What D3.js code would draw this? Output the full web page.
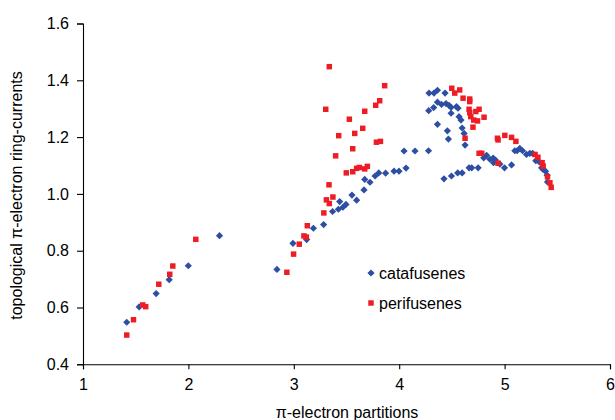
<!DOCTYPE html>
<html>
<head>
<meta charset="utf-8">
<script src="https://cdn.jsdelivr.net/npm/d3@7"></script>
<style>
    body { margin: 0; background: #fff; }
    text { font-family: "Liberation Sans", Arial, sans-serif; fill: #000; }
</style>
</head>
<body>
<div id="chart"></div>
<script>

// catafusenes (blue diamonds)
var cataX = [1.415, 1.533, 1.694, 1.818, 1.999, 2.295, 2.840, 2.992, 3.122, 3.186, 3.283, 3.368, 3.423, 3.466, 3.495,
    3.435, 3.552, 3.596, 3.666, 3.673, 3.723, 3.771, 3.806, 3.871, 3.951, 3.998, 4.046, 4.065, 4.150, 4.278,
    4.283, 4.330, 4.363, 4.435, 4.280, 4.327, 4.363, 4.401, 4.444, 4.472, 4.492, 4.543, 4.558, 4.492, 4.568,
    4.586, 4.363, 4.457, 4.467, 4.597, 4.616, 4.625, 4.425, 4.496, 4.555, 4.597, 4.663, 4.688, 4.749, 4.802,
    4.829, 4.860, 4.891, 4.913, 4.895, 4.955, 4.999, 5.066, 5.097, 5.119, 5.144, 5.170, 5.208, 5.239, 5.265,
    5.296, 5.328, 5.351, 5.366, 5.388, 5.403, 5.407];
var cataY = [0.548, 0.602, 0.649, 0.698, 0.747, 0.853, 0.734, 0.826, 0.839, 0.879, 0.892, 0.938, 0.946, 0.953, 0.963,
    0.973, 0.996, 0.978, 1.014, 1.051, 1.041, 1.063, 1.074, 1.073, 1.080, 1.080, 1.151, 1.091, 1.151, 1.152,
    1.355, 1.355, 1.365, 1.355, 1.293, 1.304, 1.323, 1.315, 1.318, 1.312, 1.305, 1.307, 1.302, 1.284, 1.272,
    1.260, 1.245, 1.222, 1.193, 1.232, 1.213, 1.172, 1.053, 1.063, 1.074, 1.074, 1.092, 1.092, 1.092, 1.127,
    1.136, 1.122, 1.126, 1.119, 1.110, 1.105, 1.092, 1.102, 1.152, 1.152, 1.160, 1.152, 1.139, 1.143, 1.143,
    1.117, 1.113, 1.092, 1.086, 1.080, 1.066, 1.042];

// perifusenes (red squares)
var periX = [1.415, 1.479, 1.567, 1.595, 1.719, 1.823, 1.852, 2.070, 2.934, 2.998, 3.052, 3.096, 3.119, 3.128, 3.285,
    3.309, 3.337, 3.371, 3.334, 3.498, 3.559, 3.596, 3.622, 3.673, 3.698, 3.397, 3.559, 3.784, 3.822, 3.426,
    3.578, 3.654, 3.527, 3.673, 3.303, 3.777, 3.815, 3.862, 3.337, 4.499, 4.527, 4.574, 4.606, 4.669, 4.669,
    4.663, 4.727, 4.758, 4.669, 4.679, 4.707, 4.743, 4.805, 4.700, 4.625, 4.758, 4.783, 4.938, 4.932, 4.938,
    5.002, 5.066, 5.107, 5.289, 5.316, 5.356, 5.366, 5.407, 5.430, 5.442];
var periY = [0.503, 0.557, 0.609, 0.603, 0.682, 0.717, 0.746, 0.840, 0.724, 0.788, 0.823, 0.852, 0.848, 0.888, 0.933,
    0.979, 0.966, 0.989, 1.032, 1.074, 1.078, 1.090, 1.093, 1.088, 1.097, 1.134, 1.159, 1.182, 1.185, 1.205,
    1.213, 1.231, 1.263, 1.291, 1.298, 1.312, 1.328, 1.381, 1.448, 1.372, 1.355, 1.366, 1.337, 1.334, 1.325,
    1.298, 1.290, 1.298, 1.286, 1.272, 1.260, 1.257, 1.270, 1.235, 1.196, 1.143, 1.143, 1.108, 1.196, 1.190,
    1.206, 1.199, 1.185, 1.139, 1.129, 1.110, 1.098, 1.060, 1.039, 1.023];

var xTicks = [1, 2, 3, 4, 5, 6];
var yTicks = [0.4, 0.6, 0.8, 1.0, 1.2, 1.4, 1.6];
var seriesNames = ["catafusenes", "perifusenes"];
var seriesColors = ["#2c4ea3", "#ee1c25"];

var width = 615, height = 420;
var margin = {top: 23.5, right: 5, bottom: 55.7, left: 83};

var svg = d3.select("#chart")
    .append("svg")
    .attr("width", width)
    .attr("height", height);

var x = d3.scaleLinear()
    .domain([1, 6])
    .range([margin.left, width - margin.right]);

var y = d3.scaleLinear()
    .domain([0.4, 1.6])
    .range([height - margin.bottom, margin.top]);

// осі
svg.append("g")
    .attr("transform", "translate(" + margin.left + ",0)")
    .call(d3.axisLeft(y).tickValues(yTicks).tickFormat(d3.format(".1f")).tickSizeOuter(0).tickSize(6).tickPadding(8));

svg.append("g")
    .attr("transform", "translate(0," + (height - margin.bottom) + ")")
    .call(d3.axisBottom(x).tickValues(xTicks).tickFormat(d3.format("d")).tickSizeOuter(0).tickSize(5).tickPadding(9));

svg.selectAll(".domain, .tick line").attr("stroke", "#000").attr("stroke-width", 1.1);
svg.selectAll(".tick text").style("font-size", "16px").attr("fill", "#000");

// підписи осей
svg.append("text")
    .attr("transform", "translate(22," + (margin.top + 172) + ") rotate(-90)")
    .attr("text-anchor", "middle")
    .style("font-size", "16px")
    .text("topological π-electron ring-currents");

svg.append("text")
    .attr("x", 347)
    .attr("y", 418)
    .attr("text-anchor", "middle")
    .style("font-size", "16px")
    .text("π-electron partitions");

// точки
var diamond = d3.symbol().type(d3.symbolSquare).size(26);
var square = d3.symbol().type(d3.symbolSquare).size(30);

svg.append("g").selectAll("path")
    .data(d3.range(cataX.length))
    .enter()
    .append("path")
    .attr("d", diamond)
    .attr("transform", function(i) { return "translate(" + x(cataX[i]) + "," + y(cataY[i]) + ") rotate(45)"; })
    .attr("fill", seriesColors[0]);

svg.append("g").selectAll("path")
    .data(d3.range(periX.length))
    .enter()
    .append("path")
    .attr("d", square)
    .attr("transform", function(i) { return "translate(" + x(periX[i]) + "," + y(periY[i]) + ")"; })
    .attr("fill", seriesColors[1]);

// легенда
var legend = svg.append("g")
    .attr("transform", "translate(371,273)");

legend.selectAll("path")
    .data(seriesNames)
    .enter()
    .append("path")
    .attr("d", function(d, i) { return i === 0 ? diamond() : square(); })
    .attr("transform", function(d, i) { return "translate(0," + (i * 30) + ")" + (i === 0 ? " rotate(45)" : ""); })
    .attr("fill", function(d, i) { return seriesColors[i]; });

legend.selectAll("text")
    .data(seriesNames)
    .enter()
    .append("text")
    .attr("x", 8)
    .attr("y", function(d, i) { return i * 30 + 6; })
    .style("font-size", "16px")
    .text(function(d) { return d; });

</script>
</body>
</html>
